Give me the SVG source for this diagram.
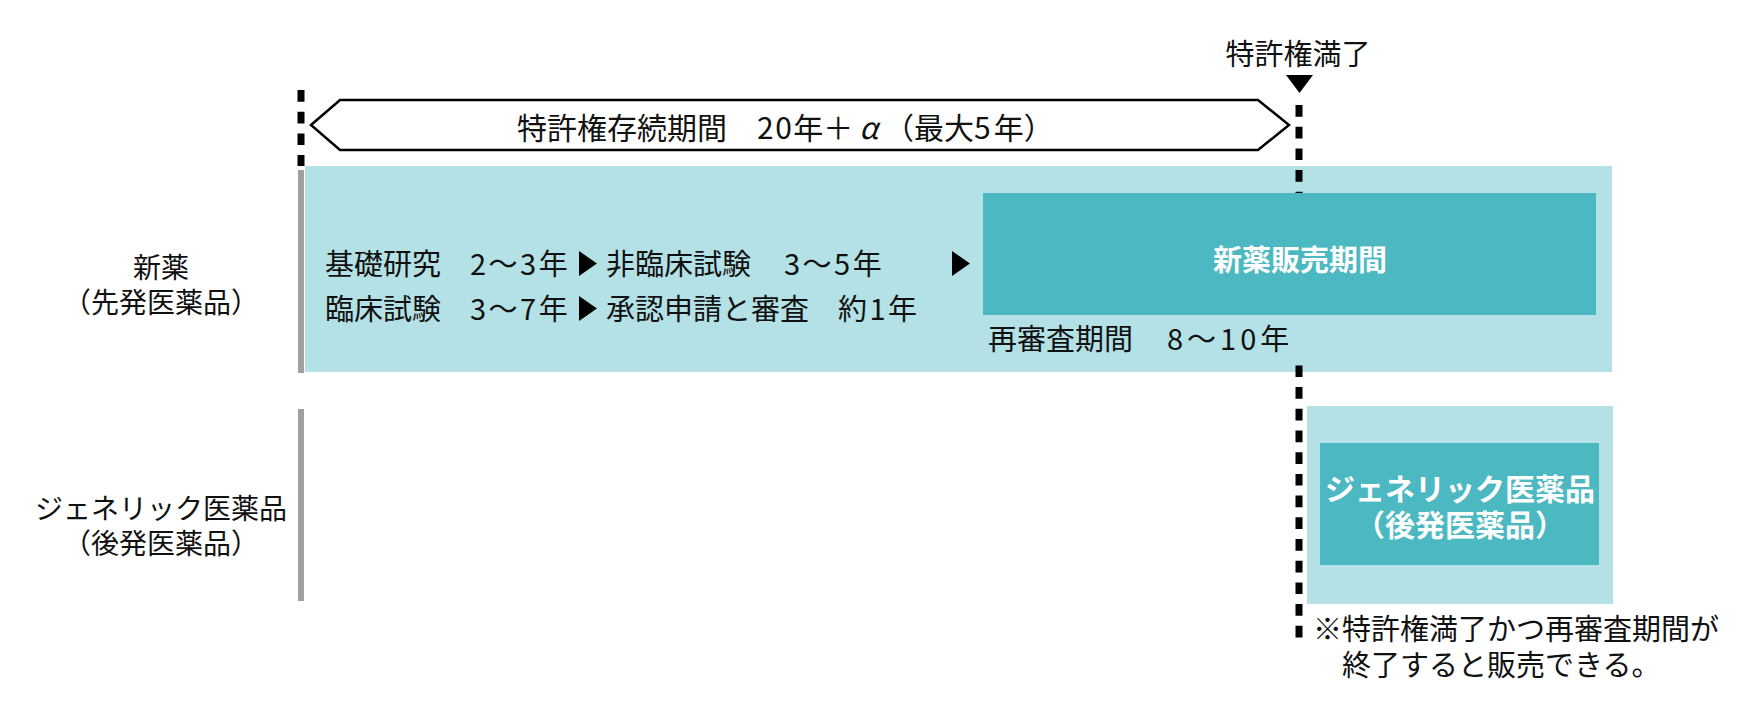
<svg xmlns="http://www.w3.org/2000/svg" width="1761" height="725" viewBox="0 0 1761 725">
<style>
text{font-family:"Noto Sans CJK JP","Noto Sans CJK SC",sans-serif;fill:#111111}
.t28{font-size:28px}
.t29{font-size:29px}
.t30{font-size:30px}
.w{font-weight:bold;fill:#ffffff}
.n{letter-spacing:2.5px}
.n4{letter-spacing:4px}
.band{fill:#b3e1e5}
.dark{fill:#4cb9c2}
.bar{fill:#a0a0a0}
.dash{stroke:#000;stroke-width:7;stroke-dasharray:11.7 10;fill:none}
.tri{fill:#000}
</style>
<rect width="1761" height="725" fill="#ffffff"/>
<g id="new-drug-row">
<rect class="band" x="305" y="166" width="1307" height="206"/>
<rect class="bar" x="298" y="170" width="6" height="203"/>
<text class="t28" text-anchor="middle"><tspan x="161" y="278">新薬</tspan><tspan x="161" y="313">（先発医薬品）</tspan></text>
<text class="t29" x="325" y="275">基礎研究　<tspan class="n">2〜3年</tspan></text>
<text class="t29" x="606" y="275">非臨床試験　<tspan class="n" dx="4">3〜5年</tspan></text>
<text class="t29" x="325" y="320">臨床試験　<tspan class="n">3〜7年</tspan></text>
<text class="t29" x="606" y="320">承認申請と審査　<tspan class="n">約1年</tspan></text>
</g>
<g id="generic-row">
<rect class="bar" x="298" y="409" width="6" height="192"/>
<text class="t28" text-anchor="middle"><tspan x="161" y="519">ジェネリック医薬品</tspan><tspan x="161" y="554">（後発医薬品）</tspan></text>
<rect class="band" x="1307" y="406" width="306" height="198"/>
</g>
<g id="connectors">
<line class="dash" x1="301" y1="90" x2="301" y2="166"/>
<line class="dash" x1="1299" y1="105" x2="1299" y2="640"/>
<polygon class="tri" points="579,251 579,276 597,263.5"/>
<polygon class="tri" points="952,251 952,276 970,263.5"/>
<polygon class="tri" points="579,296 579,321 597,308.5"/>
<polygon class="tri" points="1286,75 1313,75 1299.5,93"/>
</g>
<g id="sales-period">
<rect class="dark" x="983" y="193" width="613" height="122"/>
<text class="t29 w" x="1300" y="271" text-anchor="middle">新薬販売期間</text>
<rect class="band" x="984" y="315" width="322" height="45"/>
<text class="t29" x="988" y="350">再審査期間　<tspan class="n4" dx="5">8〜10</tspan>年</text>
</g>
<g id="generic-drug">
<rect class="dark" x="1320" y="443" width="279" height="122"/>
<text class="t30 w" text-anchor="middle"><tspan x="1460" y="500">ジェネリック医薬品</tspan><tspan x="1460" y="536">（後発医薬品）</tspan></text>
</g>
<g id="patent-period">
<polygon points="311,125 340,100 1258,100 1289,125 1258,150 340,150" fill="#fff" stroke="#000" stroke-width="2.5" stroke-linejoin="miter"/>
<text class="t30" x="517" y="139">特許権存続期間　<tspan style="letter-spacing:1.5px">20</tspan>年＋<tspan dx="6" font-style="italic">α</tspan><tspan dx="6">（最大</tspan><tspan style="letter-spacing:3px">5</tspan>年）</text>
</g>
<g id="patent-expiry">
<text class="t29" x="1298" y="65" text-anchor="middle">特許権満了</text>
</g>
<g id="footnote">
<text class="t29"><tspan x="1313" y="640">※特許権満了かつ再審査期間が</tspan><tspan x="1342" y="676">終了すると販売できる。</tspan></text>
</g>
</svg>
